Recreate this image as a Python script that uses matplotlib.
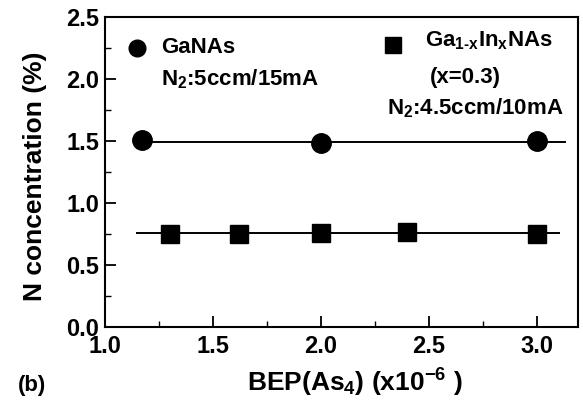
import matplotlib
matplotlib.use("Agg")
import matplotlib.pyplot as plt
from matplotlib.ticker import MultipleLocator, FormatStrFormatter

plt.rcParams['font.family'] = ['Liberation Sans', 'DejaVu Sans']
plt.rcParams['font.weight'] = 'bold'
plt.rcParams['mathtext.fontset'] = 'custom'
plt.rcParams['mathtext.rm'] = 'Liberation Sans:bold'
plt.rcParams['mathtext.it'] = 'Liberation Sans:bold'
plt.rcParams['mathtext.bf'] = 'Liberation Sans:bold'
plt.rcParams['mathtext.default'] = 'rm'

# GaNAs data
ganas_bep = [1.17, 2.0, 3.0]
ganas_n = [1.51, 1.48, 1.50]
ganas_fit_x = [1.17, 3.13]
ganas_fit_y = [1.49, 1.49]

# Ga(1-x)In(x)NAs data
gainnas_bep = [1.30, 1.62, 2.0, 2.40, 3.0]
gainnas_n = [0.75, 0.75, 0.76, 0.77, 0.75]
gainnas_fit_x = [1.15, 3.10]
gainnas_fit_y = [0.755, 0.755]

fig = plt.figure(figsize=(5.83, 4.01), dpi=100)
ax = fig.add_axes([105/583, 1 - 327/401, 473/583, 310/401])

ax.plot(ganas_fit_x, ganas_fit_y, color='black', lw=1.4)
ax.plot(gainnas_fit_x, gainnas_fit_y, color='black', lw=1.4)
ax.plot(ganas_bep, ganas_n, 'o', color='black', ms=14, ls='none')
ax.plot(gainnas_bep, gainnas_n, 's', color='black', ms=12.5, ls='none')

ax.set_xlim(1.0, 3.19)
ax.set_ylim(0.0, 2.5)
ax.xaxis.set_major_locator(MultipleLocator(0.5))
ax.xaxis.set_minor_locator(MultipleLocator(0.25))
ax.yaxis.set_major_locator(MultipleLocator(0.5))
ax.yaxis.set_minor_locator(MultipleLocator(0.25))
ax.xaxis.set_major_formatter(FormatStrFormatter('%.1f'))
ax.yaxis.set_major_formatter(FormatStrFormatter('%.1f'))
ax.tick_params(which='both', direction='in', top=False, right=False, labelsize=17)
ax.tick_params(which='major', length=8, width=1.3)
ax.tick_params(which='minor', length=4, width=1.0)
ax.tick_params(axis='x', pad=6)
ax.tick_params(axis='y', pad=4)
for s in ax.spines.values():
    s.set_linewidth(1.5)

# axis titles
fig.text(35/583, 1 - 176/401, 'N concentration (%)', fontsize=19, rotation=90,
         ha='center', va='center')
fig.text(355/583, 1 - 383/401, r'BEP(As$_4$) (x10$^{-6}$ )', fontsize=19,
         ha='center', va='center')
fig.text(18/583, 1 - 385/401, '(b)', fontsize=16, va='center', ha='left')

# legend-style annotations
ax.plot([32/473], [0.90], 'o', color='black', ms=12, transform=ax.transAxes, clip_on=False)
ax.text(56/473, 0.90, 'GaNAs', transform=ax.transAxes, fontsize=16, va='center')
ax.text(56/473, 0.80, r'N$_2$:5ccm/15mA', transform=ax.transAxes, fontsize=16, va='center')

ax.plot([288/473], [0.91], 's', color='black', ms=12, transform=ax.transAxes, clip_on=False)
ax.text(320/473, 0.925, r'Ga$_{1\text{-}x}$In$_x$NAs', transform=ax.transAxes, fontsize=16, va='center')
ax.text(360/473, 0.806, '(x=0.3)', transform=ax.transAxes, fontsize=16, va='center', ha='center')
ax.text(370/473, 0.706, r'N$_2$:4.5ccm/10mA', transform=ax.transAxes, fontsize=16, va='center', ha='center')

fig.savefig('out.png', dpi=100)
